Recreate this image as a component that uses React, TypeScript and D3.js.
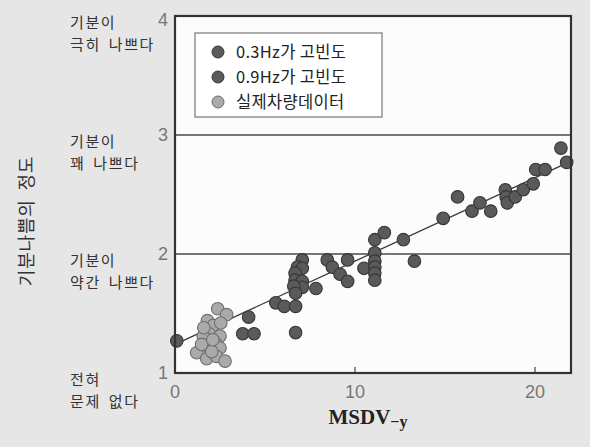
import React from "react";
import * as d3 from "d3";

const W = 590;
const H = 447;

const xDomain = [0, 22];
const yDomain = [1, 4];
const xTicks = [0, 10, 20];
const yTicks = [1, 2, 3, 4];
const gridValues = [2, 3];

const levelLabels: { y: number; lines: string[] }[] = [
  { y: 4, lines: ["기분이", "극히 나쁘다"] },
  { y: 3, lines: ["기분이", "꽤 나쁘다"] },
  { y: 2, lines: ["기분이", "약간 나쁘다"] },
  { y: 1, lines: ["전혀", "문제 없다"] },
];

const series03: [number, number][] = [
  [0.1, 1.27], [4.09, 1.47], [3.76, 1.33], [4.39, 1.33], [5.6, 1.59], [6.07, 1.56],
  [6.7, 1.56], [6.7, 1.34], [7.07, 1.95], [6.8, 1.89], [7.07, 1.88], [6.67, 1.84],
  [6.67, 1.78], [7.07, 1.77], [7.07, 1.72], [6.6, 1.73], [6.7, 1.67], [7.83, 1.71],
  [8.46, 1.95], [8.74, 1.89], [9.17, 1.83], [9.59, 1.95], [9.59, 1.77],
];

const series09: [number, number][] = [
  [10.5, 1.88], [11.1, 2.01], [11.1, 1.94], [11.1, 1.89], [11.1, 1.84], [11.1, 1.78],
  [11.1, 2.12], [11.63, 2.18], [12.69, 2.12], [13.3, 1.94], [14.9, 2.3], [15.7, 2.48],
  [16.5, 2.36], [16.94, 2.43], [17.54, 2.36], [18.35, 2.54], [18.4, 2.48], [18.46, 2.43],
  [18.9, 2.48], [19.35, 2.54], [19.9, 2.59], [20.04, 2.71], [20.56, 2.71], [21.44, 2.89],
  [21.76, 2.77],
];

const seriesReal: [number, number][] = [
  [2.37, 1.54], [2.87, 1.49], [1.8, 1.44], [2.13, 1.4], [2.54, 1.42], [1.9, 1.33],
  [1.57, 1.31], [2.5, 1.31], [2.3, 1.24], [1.85, 1.22], [2.5, 1.21], [1.2, 1.17],
  [1.76, 1.12], [2.3, 1.14], [2.78, 1.1], [1.48, 1.24], [2.04, 1.18], [2.1, 1.28],
  [1.6, 1.38],
];

const fitLine: [number, number][] = [
  [0, 1.24],
  [22, 2.78],
];

const legendItems = ["0.3Hz가 고빈도", "0.9Hz가 고빈도", "실제차량데이터"];

const DARK_FILL = "#5a5a5a";
const DARK_STROKE = "#363636";
const LIGHT_FILL = "#aaaaaa";
const LIGHT_STROKE = "#6e6e6e";

export default function App() {
  const left = 175, right = 571, top = 16, bottom = 373;
  const x = d3.scaleLinear().domain(xDomain).range([left, right]);
  const y = d3.scaleLinear().domain(yDomain).range([bottom, top]);
  const line = d3.line<[number, number]>().x((d) => x(d[0])).y((d) => y(d[1]));
  const r = 6.3;
  const kr = "'Noto Sans CJK KR', sans-serif";
  const num = "'Liberation Sans', Arial, sans-serif";

  const legendColors = [
    [DARK_FILL, DARK_STROKE],
    [DARK_FILL, DARK_STROKE],
    [LIGHT_FILL, LIGHT_STROKE],
  ];

  return (
    <svg width={W} height={H} style={{ position: "absolute", left: 0, top: 0 }}>
      <rect x={0} y={0} width={W} height={H} fill="#e6e6e6" />
      <rect x={left} y={top} width={right - left} height={bottom - top} fill="#fcfcfc" />

      {gridValues.map((g) => (
        <line key={g} x1={left} x2={right} y1={y(g)} y2={y(g)} stroke="#4a4a4a" strokeWidth={1.6} />
      ))}

      {xTicks.filter((t) => t > 0).map((t) => (
        <line key={t} x1={x(t)} x2={x(t)} y1={bottom} y2={bottom - 6} stroke="#444" strokeWidth={1.2} />
      ))}

      <path d={line(fitLine) || ""} stroke="#3a3a3a" strokeWidth={1.3} fill="none" />

      {seriesReal.map((d, i) => (
        <circle key={"r" + i} cx={x(d[0])} cy={y(d[1])} r={r} fill={LIGHT_FILL} stroke={LIGHT_STROKE} strokeWidth={1.1} />
      ))}
      {series03.map((d, i) => (
        <circle key={"a" + i} cx={x(d[0])} cy={y(d[1])} r={r} fill={DARK_FILL} stroke={DARK_STROKE} strokeWidth={1.1} />
      ))}
      {series09.map((d, i) => (
        <circle key={"b" + i} cx={x(d[0])} cy={y(d[1])} r={r} fill={DARK_FILL} stroke={DARK_STROKE} strokeWidth={1.1} />
      ))}

      <rect x={left} y={top} width={right - left} height={bottom - top} fill="none" stroke="#333" strokeWidth={2.2} />

      <rect x={195} y={33} width={187} height={84} fill="#fff" stroke="#777" strokeWidth={1.2} />
      {legendItems.map((t, i) => (
        <g key={t}>
          <circle cx={218} cy={52 + i * 25} r={6} fill={legendColors[i][0]} stroke={legendColors[i][1]} strokeWidth={1} />
          <text x={236} y={52 + i * 25} dy="0.35em" fontSize={16.5} letterSpacing={0.3} fontFamily={kr} fill="#222">
            {t}
          </text>
        </g>
      ))}

      {yTicks.map((t) => (
        <text key={t} x={168} y={y(t) + (t === 4 ? 4 : 0)} dy="0.35em" textAnchor="end" fontSize={18} fontFamily={num} fill="#777">
          {t}
        </text>
      ))}

      {xTicks.map((t) => (
        <text key={t} x={x(t)} y={392} dy="0.35em" textAnchor="middle" fontSize={18} fontFamily={num} fill="#777">
          {t}
        </text>
      ))}

      {levelLabels.map((l) => (
        <g key={l.y}>
          {l.lines.map((s, j) => (
            <text key={j} x={70} y={y(l.y) + 6.5 + j * 22} dy="0.35em" fontSize={15} letterSpacing={1.6} wordSpacing={3} fontFamily={kr} fill="#333">
              {s}
            </text>
          ))}
        </g>
      ))}

      <text
        transform={`translate(27,221) rotate(-90)`}
        textAnchor="middle"
        dy="0.35em"
        fontSize={18}
        letterSpacing={0.8}
        wordSpacing={4}
        fontFamily={kr}
        fill="#333"
      >
        기분나쁨의 정도
      </text>

      <text x={368} y={424} textAnchor="middle" fontFamily="'Liberation Serif', serif" fontWeight="bold" fill="#222">
        <tspan fontSize={21}>MSDV</tspan>
        <tspan fontSize={16} dy={3}>−y</tspan>
      </text>
    </svg>
  );
}
